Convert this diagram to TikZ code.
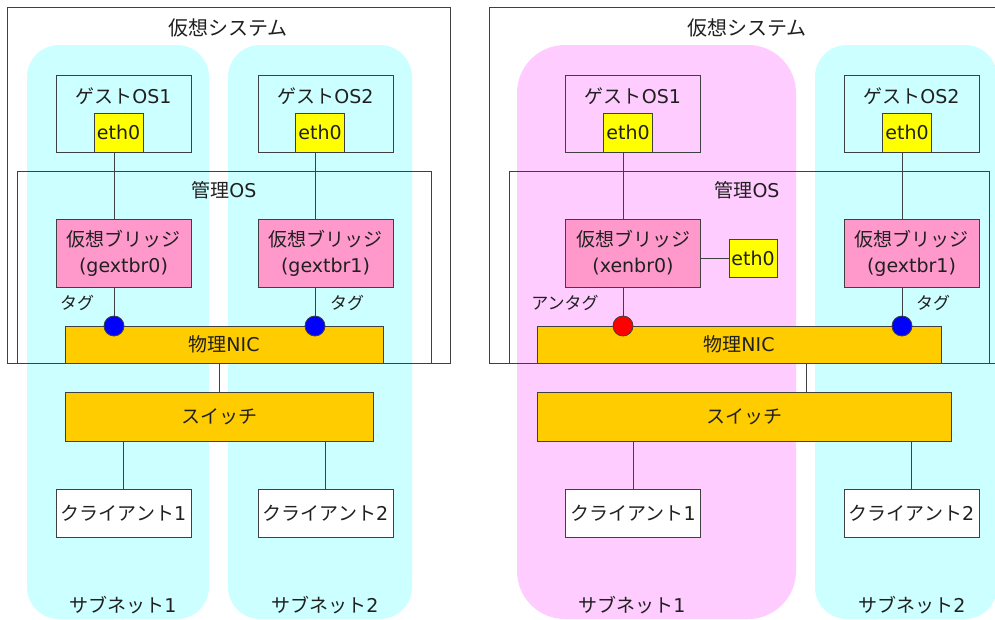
\documentclass[tikz,border=0pt]{standalone}
\usepackage{fontspec}
\setmainfont{DejaVu Sans}
\newfontfamily\J{Noto Sans CJK JP}
\definecolor{cyanbg}{HTML}{CCFFFF}
\definecolor{pinkbg}{HTML}{FFCCFF}
\definecolor{brpink}{HTML}{FF99CC}
\definecolor{nicor}{HTML}{FFCC00}
\definecolor{ethy}{HTML}{FFFF00}
\definecolor{ln}{HTML}{404040}
\definecolor{tx}{HTML}{202020}
\begin{document}
\begin{tikzpicture}[x=1pt,y=-1pt,
  box/.style={draw=ln, line width=0.9pt, inner sep=0, align=center, text=tx, font=\fontsize{19}{26}\selectfont},
  frame/.style={draw=ln, line width=0.9pt, inner sep=0},
  lbl/.style={inner sep=0, text=tx, font=\fontsize{19}{23}\selectfont},
  title/.style={inner sep=0, text=tx, font=\J\fontsize{20}{24}\selectfont},
  small/.style={inner sep=0, text=tx, font=\J\fontsize{17}{20}\selectfont},
  link/.style={draw=ln, line width=0.9pt},
  port/.style={circle, draw=ln, line width=0.8pt, minimum size=20pt, inner sep=0},
  guest/.style={box, minimum width=135pt, minimum height=77pt},
  ethbox/.style={box, fill=ethy, minimum width=49pt, minimum height=39pt},
  bridge/.style={box, fill=brpink, minimum width=135pt, minimum height=68pt},
  client/.style={box, fill=white, minimum width=135pt, minimum height=48pt},
  nic/.style={box, fill=nicor, minimum height=37pt},
  switchbox/.style={box, fill=nicor, minimum height=49pt}
]
\useasboundingbox (0,0) rectangle (995,619);
\fill[white] (0,0) rectangle (995,619);

% ---------- left panel ----------
\fill[cyanbg, rounded corners=32pt] (27,45) rectangle (209,619);
\fill[cyanbg, rounded corners=32pt] (228,45) rectangle (412,619);
\node[frame, minimum width=443pt, minimum height=356pt] (sysA) at (228.5,185) {};
\node[title] (sysAt) at (228,28) {仮想システム};
\node[frame, minimum width=414pt, minimum height=192pt] (mgA) at (224,267) {};
\node[lbl] (mgAt) at (224,190) {{\J 管理}OS};

\node[guest] (gA1) at (123.5,113.5) {};
\node[lbl] (gA1t) at (123.5,96) {{\J ゲスト}OS1};
\node[ethbox] (eA1) at (118.5,132.5) {eth0};
\node[guest] (gA2) at (325.5,113.5) {};
\node[lbl] (gA2t) at (325.5,96) {{\J ゲスト}OS2};
\node[ethbox] (eA2) at (320,132.5) {eth0};

\node[bridge] (bA1) at (123.5,253) {{\J 仮想ブリッジ}\\(gextbr0)};
\node[bridge] (bA2) at (325.5,253) {{\J 仮想ブリッジ}\\(gextbr1)};

\node[nic, minimum width=318pt] (nicA) at (224,344.5) {{\J 物理}NIC};
\node[port, fill=blue] (pA1) at (114,326) {};
\node[port, fill=blue] (pA2) at (315,326) {};
\node[small] (tA1) at (77,303) {タグ};
\node[small] (tA2) at (347,303) {タグ};

\node[switchbox, minimum width=308pt] (swA) at (219,416.5) {\J スイッチ};
\node[client] (cA1) at (123.5,513) {{\J クライアント}1};
\node[client] (cA2) at (325.5,513) {{\J クライアント}2};
\node[lbl] (sA1) at (123,605) {{\J サブネット}1};
\node[lbl] (sA2) at (325,605) {{\J サブネット}2};

\coordinate (nA) at (219,363);
\draw[link] (eA1.south -| pA1) -- (bA1.north -| pA1);
\draw[link] (bA1.south -| pA1) -- (pA1.north);
\draw[link] (eA2.south -| pA2) -- (bA2.north -| pA2);
\draw[link] (bA2.south -| pA2) -- (pA2.north);
\draw[link] (nA) -- (swA.north -| nA);
\draw[link] (swA.south -| cA1.north) -- (cA1.north);
\draw[link] (swA.south -| cA2.north) -- (cA2.north);

% ---------- right panel ----------
\fill[pinkbg, rounded corners=48pt] (517,45) rectangle (796,619);
\fill[cyanbg, rounded corners=32pt] (815,45) rectangle (997,619);
\node[frame, minimum width=512pt, minimum height=356pt] (sysB) at (745,185) {};
\node[title] (sysBt) at (747,28) {仮想システム};
\node[frame, minimum width=480pt, minimum height=192pt] (mgB) at (749,267) {};
\node[lbl] (mgBt) at (747,190) {{\J 管理}OS};

\node[guest] (gB1) at (633,113.5) {};
\node[lbl] (gB1t) at (633,96) {{\J ゲスト}OS1};
\node[ethbox] (eB1) at (628,132.5) {eth0};
\node[guest] (gB2) at (911.5,113.5) {};
\node[lbl] (gB2t) at (911.5,96) {{\J ゲスト}OS2};
\node[ethbox] (eB2) at (907,132.5) {eth0};

\node[bridge] (bB1) at (633,253) {{\J 仮想ブリッジ}\\(xenbr0)};
\node[ethbox, minimum width=48pt, minimum height=38pt] (eB3) at (753,258) {eth0};
\node[bridge] (bB2) at (911.5,253) {{\J 仮想ブリッジ}\\(gextbr1)};

\node[nic, minimum width=404pt] (nicB) at (739,344.5) {{\J 物理}NIC};
\node[port, fill=red] (pB1) at (623,326) {};
\node[port, fill=blue] (pB2) at (902,326) {};
\node[small] (tB1) at (565,303) {アンタグ};
\node[small] (tB2) at (933,303) {タグ};

\node[switchbox, minimum width=414pt] (swB) at (744,416.5) {\J スイッチ};
\node[client] (cB1) at (633,513) {{\J クライアント}1};
\node[client] (cB2) at (911.5,513) {{\J クライアント}2};
\node[lbl] (sB1) at (632,605) {{\J サブネット}1};
\node[lbl] (sB2) at (912,605) {{\J サブネット}2};

\coordinate (nB) at (806,363);
\draw[link] (eB1.south -| pB1) -- (bB1.north -| pB1);
\draw[link] (bB1.south -| pB1) -- (pB1.north);
\draw[link] (eB2.south -| pB2) -- (bB2.north -| pB2);
\draw[link] (bB2.south -| pB2) -- (pB2.north);
\draw[link] (bB1.east |- eB3) -- (eB3.west);
\draw[link] (nB) -- (swB.north -| nB);
\draw[link] (swB.south -| cB1.north) -- (cB1.north);
\draw[link] (swB.south -| cB2.north) -- (cB2.north);
\end{tikzpicture}
\end{document}
